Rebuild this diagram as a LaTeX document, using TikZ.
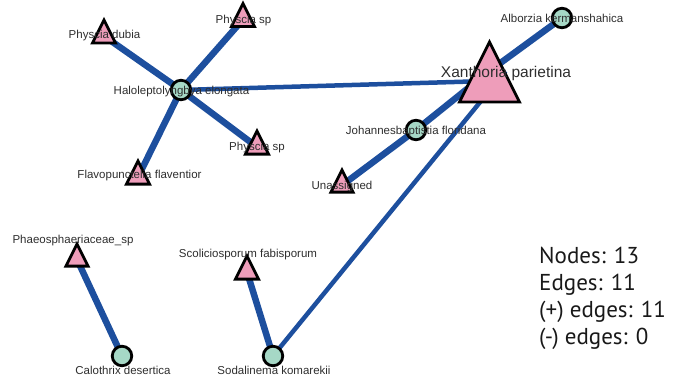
\documentclass[tikz,border=0pt]{standalone}
\usepackage{fontspec}
\setmainfont{Liberation Sans}
\newfontfamily\statfont{PT Sans}
\usetikzlibrary{shapes.geometric,backgrounds,calc}

\definecolor{edgeblue}{HTML}{1D4F9E}
\definecolor{taxonpink}{HTML}{EE9DBA}
\definecolor{hubmint}{HTML}{A6D8C6}

\tikzset{
  taxon/.style={
    isosceles triangle,
    isosceles triangle stretches,
    shape border rotate=90,
    anchor=lower side,
    draw=black,
    fill=taxonpink,
    line width=2.8pt,
    inner sep=0pt,
    minimum width=#1,
    minimum height=#1
  },
  taxon/.default=23pt,
  hub/.style={
    circle,
    draw=black,
    fill=hubmint,
    line width=2.8pt,
    inner sep=0pt,
    minimum size=19.5pt
  },
  link/.style={edgeblue, line width=6.5pt},
  weak link/.style={edgeblue, line width=4.5pt},
  lbl/.style={anchor=base, inner sep=0pt, text=black!82,
    font=\fontsize{11.5}{13}\selectfont},
  stat/.style={anchor=base west, inner sep=0pt, text=black!90,
    font=\statfont\fontsize{23}{27}\selectfont}
}

\begin{document}
\begin{tikzpicture}[x=1pt, y=-1pt]
  \useasboundingbox (0, 0) rectangle (674, 377);

  % circles
  \node[hub] (halo) at (181, 90) {};
  \node[hub] (albo) at (562, 18) {};
  \node[hub] (joha) at (416, 130) {};
  \node[hub] (calo) at (122, 356) {};
  \node[hub] (soda) at (273, 356) {};

  % triangles, placed by the middle of their base
  \node[taxon] (pdub) at (104, 44.5) {};
  \node[taxon] (psp1) at (243, 28) {};
  \node[taxon] (psp2) at (257, 155.5) {};
  \node[taxon] (flav) at (138, 185.5) {};
  \node[taxon=60pt] (xan) at (489.5, 103.5) {};
  \node[taxon=22pt] (unas) at (342, 193.5) {};
  \node[taxon=22pt] (phae) at (77, 267.5) {};
  \node[taxon] (scol) at (247, 280.5) {};

  % middle of the big triangle
  \coordinate (xan-c) at ($(xan.apex)!0.5!(xan.lower side)$);

  \begin{scope}[on background layer]
    \draw[link] (halo.center) -- (pdub.center);
    \draw[link] (halo.center) -- (psp1.center);
    \draw[link] (halo.center) -- (psp2.center);
    \draw[link] (halo.center) -- (flav.center);
    \draw[weak link] (halo.center) -- ([yshift=-10pt]xan-c);
    \draw[link] (xan-c) -- (albo.center);
    \draw[link] (xan-c) -- (joha.center);
    \draw[link] (joha.center) -- (unas.center);
    \draw[weak link] ([xshift=16pt]xan-c) -- (soda.center);
    \draw[link] (phae.center) -- (calo.center);
    \draw[link] (scol.center) -- (soda.center);
  \end{scope}

  % names
  \node[lbl] (halo-l) at (181.5, 95) {Haloleptolyngbya elongata};
  \node[lbl] (pdub-l) at (104.5, 39) {Physcia dubia};
  \node[lbl] (psp1-l) at (243.5, 24) {Physcia sp};
  \node[lbl] (psp2-l) at (257, 150) {Physcia sp};
  \node[lbl] (flav-l) at (139.5, 178) {Flavopunctelia flaventior};
  \node[lbl] (albo-l) at (562, 23) {Alborzia kermanshahica};
  \node[lbl] (joha-l) at (416, 135) {Johannesbaptistia floridana};
  \node[lbl] (unas-l) at (342, 189) {Unassigned};
  \node[lbl] (phae-l) at (73, 243) {Phaeosphaeriaceae\_sp};
  \node[lbl] (scol-l) at (248, 257) {Scoliciosporum fabisporum};
  \node[lbl] (calo-l) at (123, 374) {Calothrix desertica};
  \node[lbl] (soda-l) at (274, 374) {Sodalinema komarekii};
  \node[lbl, font=\fontsize{15.5}{18}\selectfont] (xan-l) at (506, 78) {Xanthoria parietina};

  % summary
  \node[stat] (nodes) at (539, 263) {Nodes: 13};
  \node[stat] (edges) at (539, 290) {Edges: 11};
  \node[stat] (pos) at (539, 317) {(+) edges: 11};
  \node[stat] (neg) at (539, 344) {(-) edges: 0};
\end{tikzpicture}
\end{document}
